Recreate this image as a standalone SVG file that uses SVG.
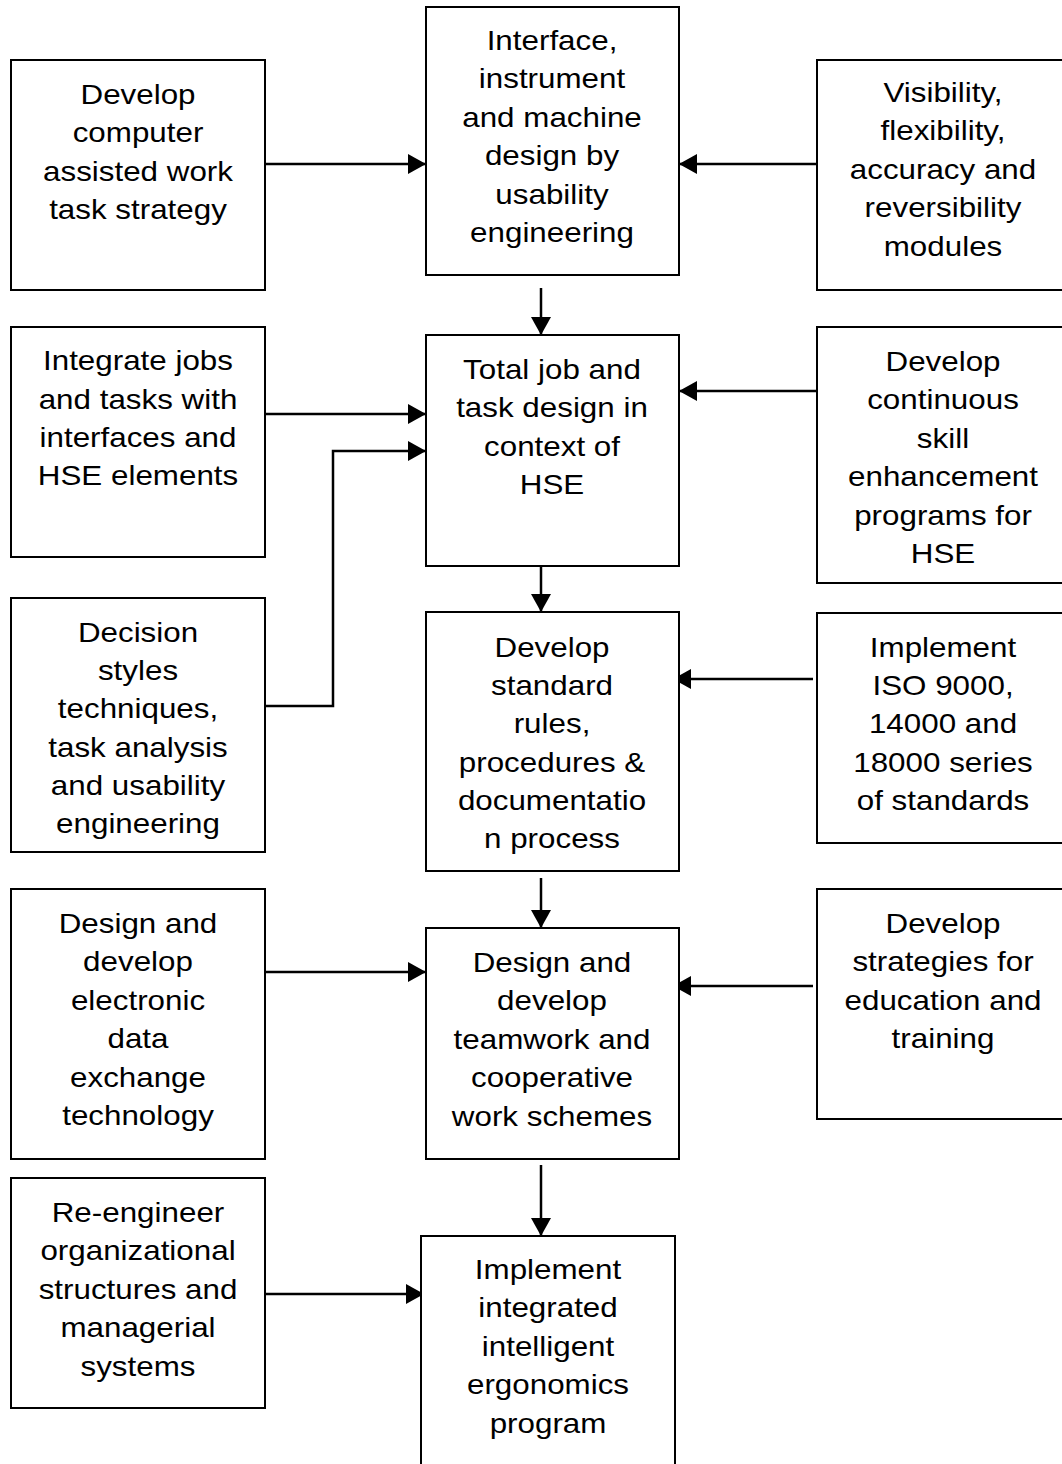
<svg xmlns="http://www.w3.org/2000/svg" width="1062" height="1464" viewBox="0 0 1062 1464">
<style>
.box{fill:#fff;stroke:#000;stroke-width:2}
.lbl{font-family:"Liberation Sans",Arial,sans-serif;font-size:28px;fill:#000;text-anchor:middle}
.con{fill:none;stroke:#000;stroke-width:2.5}
</style>
<defs>
<marker id="ah" markerUnits="userSpaceOnUse" markerWidth="18" markerHeight="20" refX="18" refY="10" orient="auto">
<path d="M0,0 L18,10 L0,20 z" fill="#000"/>
</marker>
</defs>
<rect width="1062" height="1464" fill="#fff"/>
<g id="connectors">
<path class="con" d="M265,164 H426" marker-end="url(#ah)"/>
<path class="con" d="M817,164 H679" marker-end="url(#ah)"/>
<path class="con" d="M541,288 V335" marker-end="url(#ah)"/>
<path class="con" d="M265,414 H426" marker-end="url(#ah)"/>
<path class="con" d="M265,706 H333 V451 H426" marker-end="url(#ah)"/>
<path class="con" d="M817,391 H679" marker-end="url(#ah)"/>
<path class="con" d="M541,566 V612" marker-end="url(#ah)"/>
<path class="con" d="M813,679 H673" marker-end="url(#ah)"/>
<path class="con" d="M541,878 V928" marker-end="url(#ah)"/>
<path class="con" d="M265,972 H426" marker-end="url(#ah)"/>
<path class="con" d="M813,986 H673" marker-end="url(#ah)"/>
<path class="con" d="M541,1165 V1236" marker-end="url(#ah)"/>
<path class="con" d="M265,1294 H424" marker-end="url(#ah)"/>
</g>
<g id="L1"><rect class="box" x="11" y="60" width="254" height="230"/>
<g transform="translate(138 0) scale(1.12 1)"><text class="lbl"><tspan x="0" y="104">Develop</tspan><tspan x="0" y="142">computer</tspan><tspan x="0" y="181">assisted work</tspan><tspan x="0" y="219">task strategy</tspan></text></g></g>
<g id="C1"><rect class="box" x="426" y="7" width="253" height="268"/>
<g transform="translate(552 0) scale(1.12 1)"><text class="lbl"><tspan x="0" y="50">Interface,</tspan><tspan x="0" y="88.5">instrument</tspan><tspan x="0" y="127">and machine</tspan><tspan x="0" y="165.5">design by</tspan><tspan x="0" y="204">usability</tspan><tspan x="0" y="242.5">engineering</tspan></text></g></g>
<g id="R1"><rect class="box" x="817" y="60" width="246" height="230"/>
<g transform="translate(943 0) scale(1.12 1)"><text class="lbl"><tspan x="0" y="102">Visibility,</tspan><tspan x="0" y="140.5">flexibility,</tspan><tspan x="0" y="179">accuracy and</tspan><tspan x="0" y="217.5">reversibility</tspan><tspan x="0" y="256">modules</tspan></text></g></g>
<g id="L2"><rect class="box" x="11" y="327" width="254" height="230"/>
<g transform="translate(138 0) scale(1.12 1)"><text class="lbl"><tspan x="0" y="370">Integrate jobs</tspan><tspan x="0" y="408.5">and tasks with</tspan><tspan x="0" y="447">interfaces and</tspan><tspan x="0" y="485.5">HSE elements</tspan></text></g></g>
<g id="C2"><rect class="box" x="426" y="335" width="253" height="231"/>
<g transform="translate(552 0) scale(1.12 1)"><text class="lbl"><tspan x="0" y="379">Total job and</tspan><tspan x="0" y="417.5">task design in</tspan><tspan x="0" y="456">context of</tspan><tspan x="0" y="494.5">HSE</tspan></text></g></g>
<g id="R2"><rect class="box" x="817" y="327" width="246" height="256"/>
<g transform="translate(943 0) scale(1.12 1)"><text class="lbl"><tspan x="0" y="371">Develop</tspan><tspan x="0" y="409.5">continuous</tspan><tspan x="0" y="448">skill</tspan><tspan x="0" y="486.5">enhancement</tspan><tspan x="0" y="525">programs for</tspan><tspan x="0" y="563.5">HSE</tspan></text></g></g>
<g id="L3"><rect class="box" x="11" y="598" width="254" height="254"/>
<g transform="translate(138 0) scale(1.12 1)"><text class="lbl"><tspan x="0" y="642">Decision</tspan><tspan x="0" y="680">styles</tspan><tspan x="0" y="718.5">techniques,</tspan><tspan x="0" y="757">task analysis</tspan><tspan x="0" y="795">and usability</tspan><tspan x="0" y="833.5">engineering</tspan></text></g></g>
<g id="C3"><rect class="box" x="426" y="612" width="253" height="259"/>
<g transform="translate(552 0) scale(1.12 1)"><text class="lbl"><tspan x="0" y="657">Develop</tspan><tspan x="0" y="695">standard</tspan><tspan x="0" y="733.5">rules,</tspan><tspan x="0" y="772">procedures &amp;</tspan><tspan x="0" y="810">documentatio</tspan><tspan x="0" y="848.5">n process</tspan></text></g></g>
<g id="R3"><rect class="box" x="817" y="613" width="246" height="230"/>
<g transform="translate(943 0) scale(1.12 1)"><text class="lbl"><tspan x="0" y="657">Implement</tspan><tspan x="0" y="695">ISO 9000,</tspan><tspan x="0" y="733.5">14000 and</tspan><tspan x="0" y="772">18000 series</tspan><tspan x="0" y="810">of standards</tspan></text></g></g>
<g id="L4"><rect class="box" x="11" y="889" width="254" height="270"/>
<g transform="translate(138 0) scale(1.12 1)"><text class="lbl"><tspan x="0" y="933">Design and</tspan><tspan x="0" y="971">develop</tspan><tspan x="0" y="1010">electronic</tspan><tspan x="0" y="1048">data</tspan><tspan x="0" y="1087">exchange</tspan><tspan x="0" y="1125">technology</tspan></text></g></g>
<g id="C4"><rect class="box" x="426" y="928" width="253" height="231"/>
<g transform="translate(552 0) scale(1.12 1)"><text class="lbl"><tspan x="0" y="972">Design and</tspan><tspan x="0" y="1010">develop</tspan><tspan x="0" y="1049">teamwork and</tspan><tspan x="0" y="1087">cooperative</tspan><tspan x="0" y="1126">work schemes</tspan></text></g></g>
<g id="R4"><rect class="box" x="817" y="889" width="246" height="230"/>
<g transform="translate(943 0) scale(1.12 1)"><text class="lbl"><tspan x="0" y="933">Develop</tspan><tspan x="0" y="971">strategies for</tspan><tspan x="0" y="1010">education and</tspan><tspan x="0" y="1048">training</tspan></text></g></g>
<g id="L5"><rect class="box" x="11" y="1178" width="254" height="230"/>
<g transform="translate(138 0) scale(1.12 1)"><text class="lbl"><tspan x="0" y="1222">Re-engineer</tspan><tspan x="0" y="1260">organizational</tspan><tspan x="0" y="1299">structures and</tspan><tspan x="0" y="1337">managerial</tspan><tspan x="0" y="1376">systems</tspan></text></g></g>
<g id="C5"><rect class="box" x="421" y="1236" width="254" height="230"/>
<g transform="translate(548 0) scale(1.12 1)"><text class="lbl"><tspan x="0" y="1279">Implement</tspan><tspan x="0" y="1317">integrated</tspan><tspan x="0" y="1356">intelligent</tspan><tspan x="0" y="1394">ergonomics</tspan><tspan x="0" y="1433">program</tspan></text></g></g>
</svg>
